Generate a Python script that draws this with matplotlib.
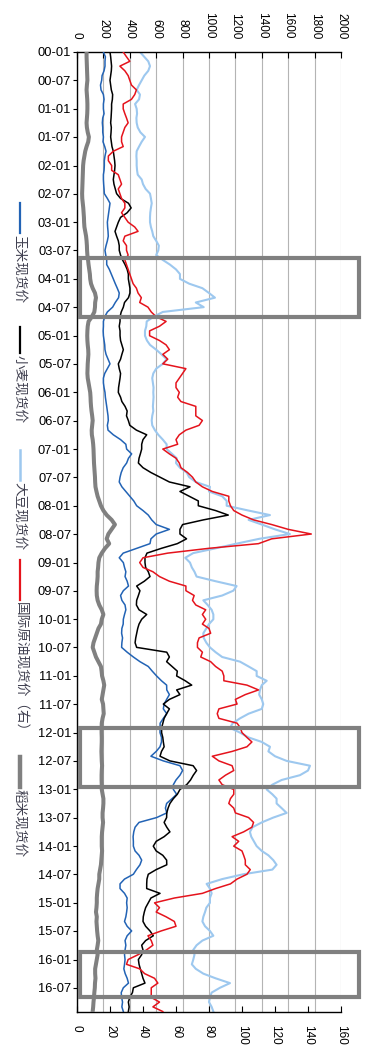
import numpy as np
import pandas as pd
import matplotlib
matplotlib.use('Agg')
import matplotlib.pyplot as plt
import matplotlib.dates as mdates
import matplotlib.transforms as mtransforms
from matplotlib.patches import Rectangle
from matplotlib.lines import Line2D

# ---------------- data (monthly, 2000-01 .. 2016-12) ----------------
months = pd.date_range('2000-01-01', periods=204, freq='MS')

corn = [200, 215, 212, 212, 205, 190, 187, 178, 182, 200, 205, 200,
        200, 205, 195, 192, 195, 195, 200, 197, 210, 220, 212, 207,
        207, 205, 200, 200, 202, 205, 207, 230, 250, 245, 240, 235,
        230, 232, 235, 237, 230, 220, 212, 218, 225, 225, 245, 260,
        275, 290, 305, 320, 315, 290, 270, 230, 210, 200, 200, 198,
        200, 205, 210, 212, 220, 235, 250, 230, 210, 200, 200, 205,
        212, 215, 220, 225, 230, 235, 237, 230, 235, 275, 330, 370,
        376, 414, 390, 376, 350, 335, 326, 320, 340, 370, 400, 430,
        452, 500, 540, 566, 600, 700, 600, 560, 553, 452, 350, 320,
        351, 360, 370, 364, 380, 390, 351, 330, 340, 364, 370, 360,
        351, 350, 340, 338, 345, 340, 338, 380, 427, 477, 540, 570,
        603, 640, 679, 680, 700, 679, 660, 654, 680, 654, 630, 629,
        629, 640, 640, 629, 600, 560, 654, 780, 800, 780, 750, 730,
        730, 755, 720, 679, 670, 680, 603, 470, 440, 430, 425, 427,
        427, 440, 470, 490, 477, 450, 427, 360, 326, 326, 360, 380,
        376, 380, 376, 370, 360, 380, 414, 380, 364, 370, 364, 360,
        364, 360, 355, 365, 380, 390, 351, 335, 338, 345, 340, 351]

wheat = [250, 255, 258, 262, 260, 255, 250, 255, 260, 270, 268, 262,
         262, 260, 258, 255, 260, 258, 255, 260, 265, 275, 280, 285,
         288, 285, 280, 275, 280, 290, 300, 330, 390, 410, 380, 330,
         313, 300, 288, 300, 313, 320, 320, 330, 345, 364, 380, 389,
         389, 395, 401, 401, 390, 360, 351, 335, 326, 326, 320, 326,
         326, 330, 340, 351, 340, 330, 313, 320, 330, 326, 320, 315,
         313, 330, 340, 364, 380, 375, 389, 400, 450, 528, 500, 490,
         490, 480, 470, 465, 500, 560, 629, 700, 856, 780, 850, 919,
         919, 1050, 1146, 957, 800, 780, 780, 830, 760, 640, 530, 515,
         515, 520, 540, 553, 510, 452, 477, 465, 452, 450, 470, 528,
         490, 470, 460, 452, 445, 440, 452, 680, 700, 679, 720, 760,
         755, 820, 869, 755, 780, 700, 654, 700, 679, 660, 650, 641,
         641, 650, 654, 660, 640, 629, 704, 880, 906, 881, 860, 831,
         780, 760, 730, 704, 690, 680, 679, 660, 680, 704, 660, 600,
         578, 600, 650, 679, 680, 600, 540, 530, 528, 528, 629, 560,
         540, 520, 510, 502, 500, 520, 553, 578, 520, 490, 500, 490,
         465, 470, 480, 490, 500, 515, 427, 420, 400, 389, 395, 389]

soybean = [477, 510, 540, 553, 540, 510, 490, 470, 452, 477, 470, 440,
           452, 455, 450, 452, 460, 480, 515, 490, 470, 452, 450, 452,
           452, 455, 460, 490, 500, 520, 553, 560, 566, 560, 555, 553,
           553, 560, 570, 578, 600, 620, 616, 600, 650, 704, 750, 780,
           780, 850, 950, 1000, 1045, 900, 960, 650, 580, 528, 525, 515,
           515, 530, 553, 600, 640, 679, 650, 600, 578, 570, 575, 580,
           578, 580, 578, 575, 578, 570, 566, 570, 590, 616, 650, 679,
           679, 720, 755, 750, 780, 831, 850, 900, 1007, 1000, 1100, 1134,
           1134, 1300, 1462, 1300, 1400, 1500, 1613, 1380, 1209, 1050, 880, 820,
           856, 870, 890, 906, 1050, 1209, 1184, 1100, 957, 990, 1020, 1033,
           1033, 1000, 980, 957, 960, 980, 1007, 1050, 1100, 1235, 1300, 1361,
           1361, 1437, 1400, 1386, 1380, 1400, 1411, 1400, 1300, 1235, 1180, 1159,
           1235, 1300, 1400, 1462, 1450, 1500, 1588, 1765, 1750, 1689, 1550, 1480,
           1437, 1480, 1512, 1512, 1550, 1588, 1487, 1400, 1330, 1310, 1320, 1340,
           1361, 1400, 1450, 1487, 1512, 1480, 1260, 1100, 982, 1007, 1020, 1007,
           1007, 980, 970, 957, 950, 970, 1007, 1033, 950, 906, 880, 890,
           881, 870, 900, 957, 1050, 1159, 1083, 1020, 1007, 1000, 1020, 1033]

crude_oil = [28, 30, 32, 26, 29, 31, 32, 33, 36, 35, 33, 28,
             28, 29, 30, 31, 29, 28, 27, 27, 28, 22, 19, 19,
             21, 21, 25, 26, 27, 25, 26, 27, 29, 29, 27, 29,
             31, 35, 37, 29, 28, 30, 30, 31, 29, 30, 31, 32,
             33, 34, 36, 37, 39, 38, 43, 45, 48, 54, 50, 44,
             44, 50, 54, 56, 52, 55, 52, 66, 64, 62, 60, 60,
             62, 61, 63, 72, 72, 72, 76, 74, 66, 62, 60, 61,
             52, 56, 60, 62, 63, 67, 70, 72, 76, 82, 92, 92,
             93, 95, 100, 107, 118, 128, 142, 118, 110, 80, 55, 40,
             38, 40, 46, 50, 56, 66, 66, 71, 70, 72, 78, 76,
             78, 76, 80, 81, 74, 73, 73, 76, 75, 81, 84, 88,
             89, 89, 103, 110, 102, 96, 97, 86, 85, 86, 97, 99,
             100, 103, 106, 103, 94, 82, 86, 94, 95, 90, 86, 88,
             95, 95, 93, 92, 95, 96, 104, 107, 106, 101, 94, 98,
             95, 100, 101, 102, 102, 105, 103, 97, 93, 84, 76, 59,
             47, 50, 48, 54, 59, 60, 51, 43, 45, 46, 42, 37,
             31, 30, 38, 41, 47, 49, 45, 45, 45, 50, 46, 52]

rice = [5.8, 5.8, 5.9, 6.0, 6.1, 6.2, 6.3, 6.0, 5.8, 6.0, 6.2, 6.3,
        6.3, 6.2, 6.0, 5.8, 6.0, 6.5, 7.2, 6.8, 5.8, 5.0, 4.5, 4.0,
        3.7, 3.6, 3.5, 3.4, 3.3, 3.2, 3.1, 3.2, 3.5, 3.8, 4.0, 4.2,
        4.3, 4.5, 5.0, 5.5, 5.8, 6.0, 6.1, 6.3, 6.7, 7.0, 7.4, 7.8,
        8.0, 8.5, 9.5, 10.9, 11.5, 11.0, 10.9, 10.5, 9.0, 7.0, 6.5, 6.3,
        6.2, 6.3, 6.5, 6.8, 6.9, 6.7, 6.5, 6.4, 6.3, 6.5, 7.0, 7.5,
        8.0, 8.2, 8.3, 8.5, 8.8, 9.2, 9.5, 9.2, 8.9, 9.0, 9.5, 9.8,
        10.0, 10.1, 10.2, 10.3, 10.5, 10.7, 10.9, 11.0, 11.2, 11.8, 12.5, 13.5,
        14.5, 16.0, 18.0, 21.0, 23.0, 21.0, 19.0, 18.0, 19.5, 17.0, 15.0, 13.5,
        13.0, 12.8, 12.5, 12.5, 12.3, 12.0, 11.9, 12.0, 12.5, 13.5, 15.0, 16.0,
        15.0, 14.5, 13.0, 12.0, 11.0, 10.0, 9.5, 10.5, 11.5, 13.0, 14.5, 14.9,
        15.2, 16.0, 16.5, 16.0, 15.5, 15.0, 15.8, 16.0, 16.2, 15.5, 15.0, 14.9,
        14.9, 15.0, 15.0, 14.9, 14.8, 14.9, 15.0, 15.2, 15.0, 14.9, 14.9, 15.0,
        15.0, 15.5, 16.0, 16.0, 15.8, 15.5, 15.5, 15.8, 15.5, 15.2, 15.0, 15.0,
        15.0, 15.2, 15.0, 14.8, 14.5, 14.0, 13.5, 13.5, 13.0, 12.5, 12.2, 12.0,
        12.0, 11.8, 11.5, 12.0, 11.8, 12.0, 12.2, 12.5, 12.9, 12.5, 12.0, 12.5,
        12.0, 11.5, 11.0, 11.0, 11.2, 10.9, 10.8, 10.5, 10.3, 10.0, 9.8, 9.5]

for s in (corn, wheat, soybean, crude_oil, rice):
    assert len(s) == len(months)

left_ticks = list(range(0, 2001, 200))
right_ticks = list(range(0, 161, 20))
date_ticks = pd.date_range('2000-01-01', '2016-07-01', freq='6MS')
date_labels = [d.strftime('%y-%m') for d in date_ticks]

legend_names = ['玉米现货价', '小麦现货价', '大豆现货价', '国际原油现货价（右）', '稻米现货价']
highlight_periods = [('2003-08-18', '2004-09-01'),
                     ('2011-12-01', '2012-12-16'),
                     ('2015-11-12', '2016-09-01')]

# ---------------- styling ----------------
C_CORN = '#2263B5'
C_WHEAT = '#000000'
C_SOY = '#9DC8EF'
C_OIL = '#E5131C'
C_RICE = '#808080'
TICKFONT = 'Liberation Sans'

W, H = 368, 1057
fig = plt.figure(figsize=(W / 100, H / 100), dpi=100)
ax = fig.add_axes([77 / W, 1 - 1012 / H, 264 / W, 960 / H])
ax2 = ax.twiny()

ylo, yhi = pd.Timestamp('2016-12-04'), pd.Timestamp('2000-01-01')

# grains on the upper (left-original) scale
ax.plot(soybean, months, color=C_SOY, lw=1.5, zorder=2)
ax.plot(corn, months, color=C_CORN, lw=1.1, zorder=3)
ax.plot(wheat, months, color=C_WHEAT, lw=1.1, zorder=4)
ax.set_xlim(0, 2000)
ax.set_ylim(ylo, yhi)
ax.xaxis.tick_top()
ax.set_xticks(left_ticks)
ax.set_xticklabels([str(t) for t in left_ticks], fontfamily=TICKFONT)
ax.tick_params(axis='x', which='both', top=True, bottom=False, labeltop=True,
               labelbottom=False, direction='in', length=4.5, width=0.8,
               labelsize=8.5, labelrotation=-90, pad=9.4)
ax.grid(axis='x', color='#B4B4B4', lw=0.8)
ax.set_axisbelow(True)
ax.set_yticks(date_ticks)
ax.set_yticklabels(date_labels, fontfamily=TICKFONT)
ax.tick_params(axis='y', direction='out', length=3, width=0.8, labelsize=9.3, pad=1.2)
for sp in ('right', 'bottom'):
    ax.spines[sp].set_visible(False)
for sp in ('left', 'top'):
    ax.spines[sp].set_linewidth(1.0)

# oil and rice on the lower (right-original) scale
ax2.plot(crude_oil, months, color=C_OIL, lw=1.1, zorder=3)
ax2.plot(rice, months, color=C_RICE, lw=2.9, zorder=4)
ax2.set_xlim(0, 160)
ax2.set_ylim(ylo, yhi)
ax2.xaxis.tick_bottom()
ax2.set_xticks(right_ticks)
ax2.set_xticklabels([str(t) for t in right_ticks], fontfamily=TICKFONT)
ax2.tick_params(axis='x', which='both', bottom=True, top=False, labelbottom=True,
                labeltop=False, direction='in', length=4.5, width=0.8,
                labelsize=8.5, labelrotation=-90, pad=9.4)
for sp in ('right', 'top', 'left'):
    ax2.spines[sp].set_visible(False)
ax2.spines['bottom'].set_linewidth(1.0)

# highlight rectangles
trans = mtransforms.blended_transform_factory(ax.transAxes, ax.transData)
for a, b in highlight_periods:
    y0 = mdates.date2num(pd.Timestamp(a))
    y1 = mdates.date2num(pd.Timestamp(b))
    r = Rectangle((0.011, y0), 1.057, y1 - y0, transform=trans, fill=False,
                  edgecolor='#808080', lw=3.0, clip_on=False, zorder=10)
    fig.add_artist(r)

# legend (rotated, on the left)
leg_colors = [C_CORN, C_WHEAT, C_SOY, C_OIL, C_RICE]
leg_widths = [1.6, 1.6, 1.8, 1.6, 3.2]
leg_lines = [(203, 233), (327, 353), (450, 480), (560, 600), (757, 787)]
lx = 20
for name, c, lw_, (y0, y1) in zip(legend_names, leg_colors, leg_widths, leg_lines):
    fig.add_artist(Line2D([lx / W, lx / W], [1 - y0 / H, 1 - y1 / H],
                          transform=fig.transFigure, color=c, lw=lw_))
    fig.text(lx / W, 1 - (y1 + 2) / H, name, rotation=-90, ha='center', va='top',
             fontsize=9.8, color='#404050',
             family=['Noto Sans CJK SC', 'DejaVu Sans'])

fig.savefig('out.png', dpi=100)
